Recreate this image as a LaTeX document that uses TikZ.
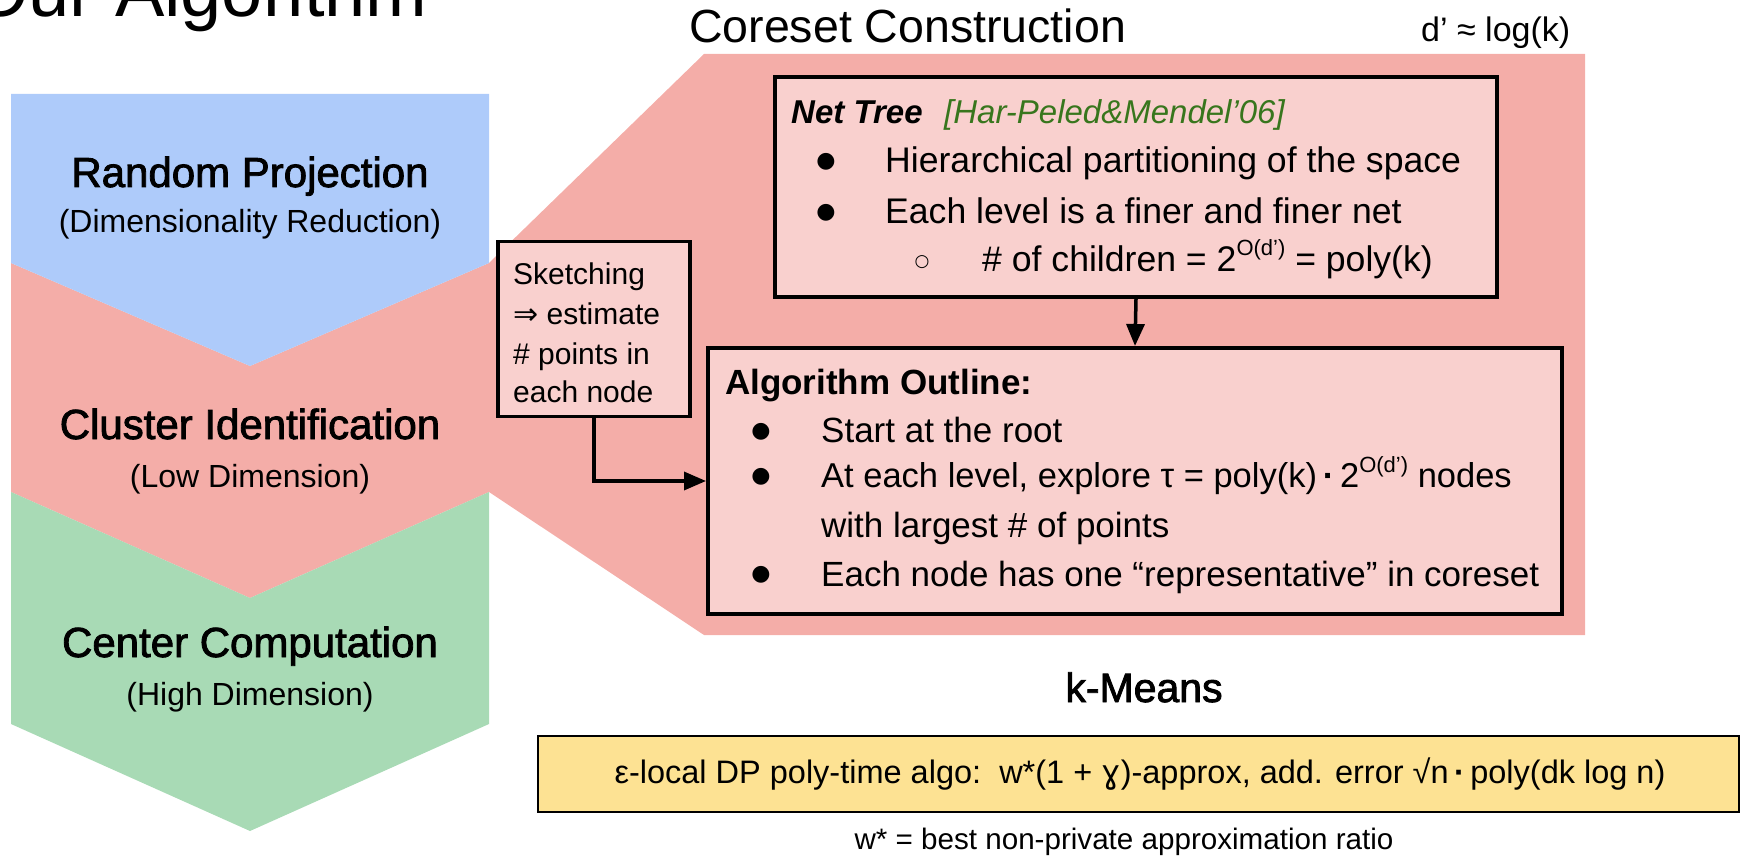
\documentclass[tikz,border=0pt]{standalone}
\usepackage{fontspec}
\setmainfont{Liberation Sans}
\newfontfamily\dejavu{DejaVu Sans}
\newfontfamily\medfont[FakeBold=2]{Liberation Sans}
\usetikzlibrary{arrows.meta}
\definecolor{cblue}{HTML}{AECBFA}
\definecolor{cpink}{HTML}{F4ADA8}
\definecolor{cbox}{HTML}{F9D0CE}
\definecolor{cgreen}{HTML}{A8DAB5}
\definecolor{cyellow}{HTML}{FDE293}
\definecolor{cref}{HTML}{38761D}
\newcommand\fs[1]{\fontsize{#1}{#1}\selectfont}
\newcommand\supx[1]{\raisebox{0.45em}{\fs{22}#1}}
\begin{document}
\begin{tikzpicture}[x=1pt,y=-1pt,
  txt/.style={inner sep=0pt, anchor=base west},
  ctxt/.style={inner sep=0pt, anchor=base},
  box/.style={draw=black, line width=4pt, fill=cbox, inner sep=0pt, anchor=north west},
  conn/.style={line width=3.5pt, -{Triangle[length=22pt,width=18pt]}},
  bul/.style={inner sep=0pt, anchor=center}]
\useasboundingbox (0,0) rectangle (1741,858);
\clip (0,0) rectangle (1741,858);
% callout and chevrons
\fill[cpink] (489,263) -- (704,54) -- (1585,54) -- (1585,635) -- (704,635) -- (489,492) -- cycle;
\fill[cpink] (11,263) -- (250,366) -- (489,263) -- (489,492) -- (250,598) -- (11,492) -- cycle;
\fill[cblue] (11,94) -- (489,94) -- (489,263) -- (250,366) -- (11,263) -- cycle;
\fill[cgreen] (11,492) -- (250,598) -- (489,492) -- (489,724) -- (250,831) -- (11,724) -- cycle;
% title
\node[txt] (title) at (-29,17) {\fs{74}Our Algorithm};
% chevron labels
\node[ctxt] (rp) at (250,187) {\medfont\fs{42}Random Projection};
\node[ctxt] (rps) at (250,233) {\fs{32}(Dimensionality Reduction)};
\node[ctxt] (ci) at (250,439) {\medfont\fs{42}Cluster Identification};
\node[ctxt] (cis) at (250,487) {\fs{32}(Low Dimension)};
\node[ctxt] (cc) at (250,657) {\medfont\fs{42}Center Computation};
\node[ctxt] (ccs) at (250,705) {\fs{32}(High Dimension)};
% coreset header
\node[txt] (cst) at (689,43) {\fs{46.5}Coreset Construction};
\node[txt] (dk) at (1421,42) {\fs{34}d’ ≈ log(k)};
% boxes
\node[box, minimum width=722pt, minimum height=220pt] (net) at (773,75) {};
\node[box, minimum width=854pt, minimum height=266pt] (alg) at (706,346) {};
\node[box, line width=3.5pt, minimum width=192pt, minimum height=175pt] (sk) at (496,240) {};
\node[box, line width=2pt, fill=cyellow, minimum width=1201pt, minimum height=76pt] (yb) at (537,735) {};
% connectors
\draw[conn] (net.south) -- (alg.north);
\draw[conn] (sk.south) |- (alg.west);
% net tree text
\node[txt] (nt) at (791,124) {\fs{33}\textbf{\textit{Net Tree}}};
\node[txt] (ntc) at (944,124) {\fs{33}\color{cref}\itshape [Har-Peled\&Mendel’06]};
\node[bul] (b1) at (826,162) {\dejavu\fs{22}●};
\node[txt] (l1) at (885,173) {\fs{35.6}Hierarchical partitioning of the space};
\node[bul] (b2) at (826,213) {\dejavu\fs{22}●};
\node[txt] (l2) at (885,224) {\fs{35.6}Each level is a finer and finer net};
\node[bul] (b3) at (922,262) {\dejavu\fs{17}○};
\node[txt] (l3) at (982,272) {\fs{35.6}\# of children = 2\supx{O(d’)} = poly(k)};
% sketch text
\node[txt] (s1) at (513,285) {\fs{30}Sketching};
\node[txt] (s2) at (513,325) {\fs{30}{\dejavu ⇒} estimate};
\node[txt] (s3) at (513,365) {\fs{30}\# points in};
\node[txt] (s4) at (513,403) {\fs{30}each node};
% algorithm text
\node[txt] (ah) at (725,395) {\fs{35}\textbf{Algorithm Outline:}};
\node[bul] (c1) at (761,432) {\dejavu\fs{22}●};
\node[txt] (a1) at (821,443) {\fs{35}Start at the root};
\node[bul] (c2) at (761,477) {\dejavu\fs{22}●};
\node[txt] (a2) at (821,488) {\fs{34.5}At each level, explore τ = poly(k)\,\textbf{·}\,2\supx{O(d’)} nodes};
\node[txt] (a3) at (821,537) {\fs{35}with largest \# of points};
\node[bul] (c4) at (761,575) {\dejavu\fs{22}●};
\node[txt] (a4) at (821,586) {\fs{35}Each node has one “representative” in coreset};
% k-means
\node[ctxt] (km) at (1144,702) {\medfont\fs{41}k-Means};
\node[ctxt] (yt) at (1140,783) {\fs{32.5}ε-local DP poly-time algo:\ \ w*(1 + {\dejavu ɣ})-approx, add. error √n\,\textbf{·}\,poly(dk log n)};
\node[ctxt] (ws) at (1124,849) {\fs{29.6}w* = best non-private approximation ratio};
\end{tikzpicture}
\end{document}
